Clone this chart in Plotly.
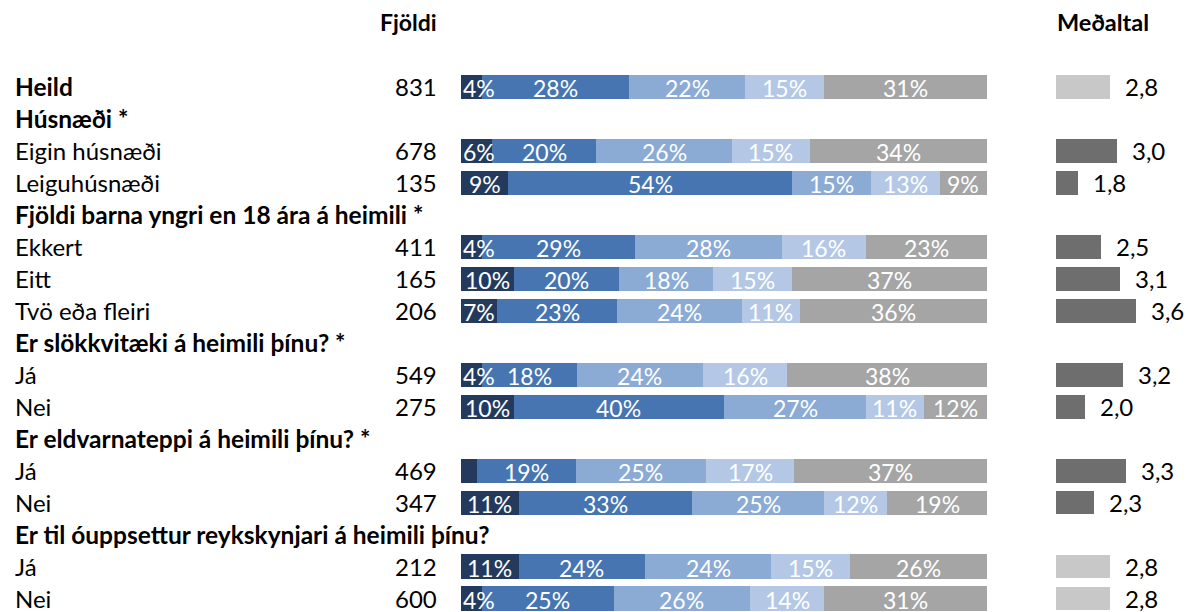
import plotly.graph_objects as go

FONT = "Lato"

row_labels = ["Heild", "Húsnæði *", "Eigin húsnæði", "Leiguhúsnæði",
              "Fjöldi barna yngri en 18 ára á heimili *", "Ekkert", "Eitt", "Tvö eða fleiri",
              "Er slökkvitæki á heimili þínu? *", "Já", "Nei",
              "Er eldvarnateppi á heimili þínu? *", "Já", "Nei",
              "Er til óuppsettur reykskynjari á heimili þínu?", "Já", "Nei"]
row_bold = [True, True, False, False, True, False, False, False, True, False, False,
            True, False, False, True, False, False]
counts = ["831", "", "678", "135", "", "411", "165", "206", "", "549", "275", "", "469", "347", "", "212", "600"]

# data rows (indices into row_labels)
data_rows = [0, 2, 3, 5, 6, 7, 9, 10, 12, 13, 15, 16]
s1 = [4, 6, 9, 4, 10, 7, 4, 10, 3, 11, 11, 4]
s2 = [28, 20, 54, 29, 20, 23, 18, 40, 19, 33, 24, 25]
s3 = [22, 26, 15, 28, 18, 24, 24, 27, 25, 25, 24, 26]
s4 = [15, 15, 13, 16, 15, 11, 16, 11, 17, 12, 15, 14]
s5 = [31, 34, 9, 23, 37, 36, 38, 12, 37, 19, 26, 31]
means = [2.8, 3.0, 1.8, 2.5, 3.1, 3.6, 3.2, 2.0, 3.3, 2.3, 2.8, 2.8]
significant = [False, True, True, True, True, True, True, True, True, True, False, False]

seg_colors = ["#233A5C", "#4675B1", "#8BABD4", "#B4C8E5", "#A5A5A5"]
mean_colors = {True: "#6E6E6E", False: "#C8C8C8"}

W = 1188
TOP = 71
PH = 612 - TOP
fig = go.Figure()
series = [s1, s2, s3, s4, s5]
totals = [sum(v) for v in zip(*series)]
norm = [[v * 100.0 / t for v, t in zip(vals, totals)] for vals in series]
for vals, col in zip(norm, seg_colors):
    fig.add_trace(go.Bar(
        x=vals, y=data_rows, orientation="h",
        marker=dict(color=col, line=dict(width=0)),
        width=0.76, xaxis="x", yaxis="y", hoverinfo="skip", showlegend=False,
    ))

fig.add_trace(go.Bar(
    x=means, y=data_rows, orientation="h",
    marker=dict(color=[mean_colors[s] for s in significant], line=dict(width=0)),
    width=0.74, xaxis="x2", yaxis="y", hoverinfo="skip", showlegend=False,
))

ann = []
# percentage labels, drawn above all bars (like the original)
for j in range(len(data_rows)):
    start = 0.0
    for k in range(len(series)):
        w = norm[k][j]
        v = series[k][j]
        if v >= 4:
            mid = start + w / 2
            if k == 0:
                mid = max(mid, 3.4)
            ann.append(dict(x=mid, y=data_rows[j], xref="x", yref="y", text=f"{v}%",
                            xanchor="center", yanchor="middle", yshift=-1, showarrow=False,
                            font=dict(size=23, family=FONT, color="white")))
        start += w

for i, (lab, b, c) in enumerate(zip(row_labels, row_bold, counts)):
    ann.append(dict(x=13 / W, y=i, xref="paper", yref="y", text=f"<b>{lab}</b>" if b else lab,
                    xanchor="left", yanchor="middle", showarrow=False,
                    font=dict(size=24.5 if b else 24, family=FONT, color="black")))
    if c:
        ann.append(dict(x=439 / W, y=i, xref="paper", yref="y", text=c,
                        xanchor="right", yanchor="middle", showarrow=False,
                        font=dict(size=24, family=FONT, color="black")))
for r, m in zip(data_rows, means):
    ann.append(dict(x=m, y=r, xref="x2", yref="y", text=f"{m:.1f}".replace(".", ","),
                    xanchor="left", yanchor="middle", xshift=13, showarrow=False,
                    font=dict(size=24, family=FONT, color="black")))
HY = 1 + (TOP - 22) / PH
ann.append(dict(x=439 / W, y=HY, xref="paper", yref="paper", yanchor="middle",
                text="<b>Fjöldi</b>", xanchor="right", showarrow=False,
                font=dict(size=23, family=FONT, color="black")))
ann.append(dict(x=1055 / W, y=HY, xref="paper", yref="paper", yanchor="middle",
                text="<b>Meðaltal</b>", xanchor="left", showarrow=False,
                font=dict(size=23.5, family=FONT, color="black")))

fig.update_layout(
    width=1188, height=612,
    margin=dict(l=0, r=0, t=TOP, b=0),
    barmode="stack",
    plot_bgcolor="white", paper_bgcolor="white",
    xaxis=dict(domain=[461 / W, 987 / W], range=[0, 100], visible=False, fixedrange=True),
    xaxis2=dict(domain=[1056 / W, 1.0], range=[1.1, 1.1 + 132 / 32.0], visible=False,
                anchor="y", fixedrange=True),
    yaxis=dict(range=[16.42, -0.5], visible=False, fixedrange=True),
    annotations=ann,
    font=dict(family=FONT),
)

fig.write_html("out.html", config={"displayModeBar": False},
               post_script="document.body.style.margin='0';document.body.style.overflow='hidden';")
